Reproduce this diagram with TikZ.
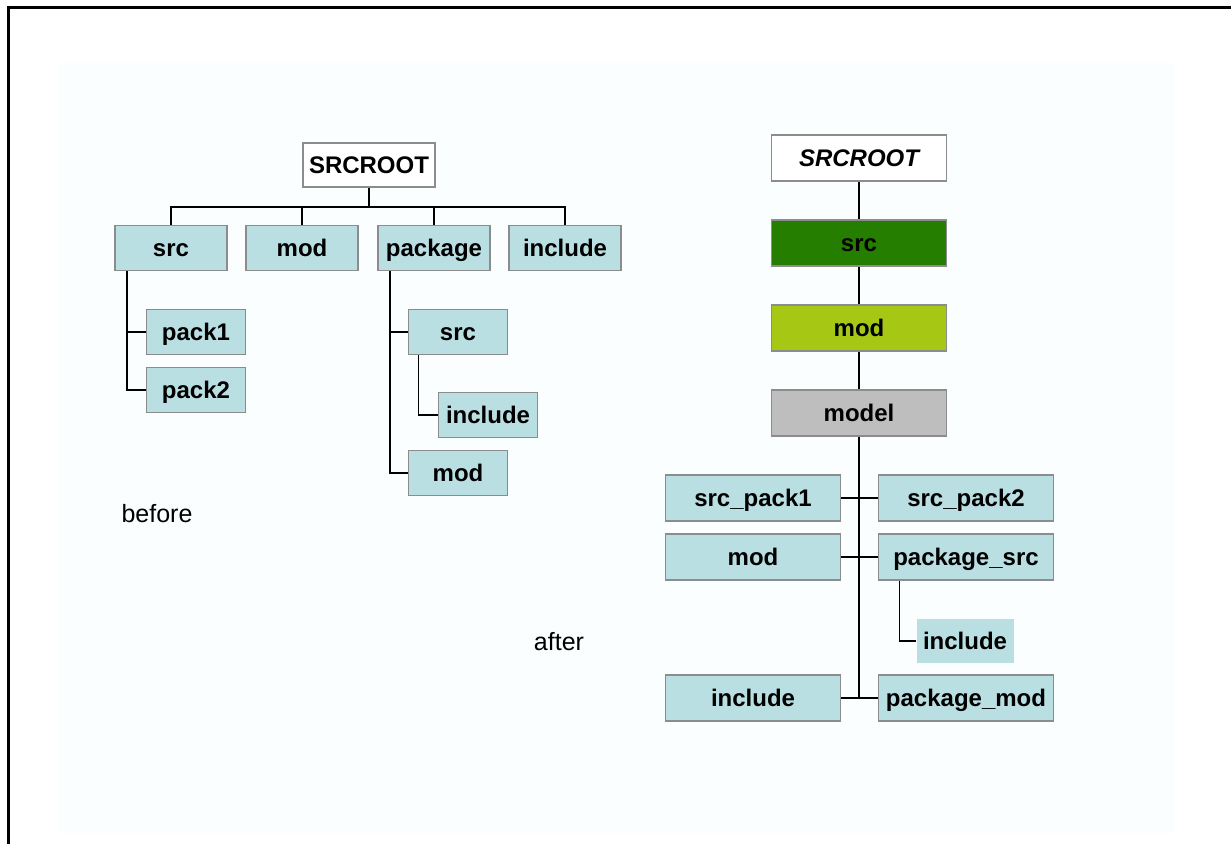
\documentclass[tikz,border=0pt]{standalone}
\usepackage{fontspec}
\setmainfont{Liberation Sans}
\definecolor{dirblue}{RGB}{185,223,227}
\definecolor{boxline}{RGB}{140,140,140}
\definecolor{srcgreen}{RGB}{38,126,0}
\definecolor{modlime}{RGB}{166,200,20}
\definecolor{modelgray}{RGB}{190,190,190}
\definecolor{paper}{RGB}{250,254,255}
\tikzset{
  dirbox/.style={draw=boxline, fill=dirblue, line width=0.8pt, inner sep=0pt,
    minimum height=22.5pt, text height=8.6pt, text depth=0pt,
    font=\bfseries\fontsize{12}{14}\selectfont},
  topbox/.style={dirbox, minimum width=56pt},
  subbox/.style={dirbox, minimum width=49.5pt},
  flatbox/.style={dirbox, minimum width=87.5pt, minimum height=23pt},
  rootbox/.style={dirbox, fill=white},
  link/.style={line width=0.75pt}
}
\begin{document}
\begin{tikzpicture}
        [x=0.5pt,y=-0.5pt]
        \useasboundingbox (0,0) rectangle (1231,844);
        \fill[paper] (59,63) rectangle (1175,833);
        \draw[line width=1.5pt] (8,844) -- (8,8) -- (1231,8);

        % before
        \node[rootbox, minimum width=66pt, minimum height=22pt] (root) at (369,165) {SRCROOT};
        \node[topbox] (src) at (171,248) {src};
        \node[topbox] (mod) at (302,248) {mod};
        \node[topbox] (package) at (434,248) {package};
        \node[topbox] (include) at (565,248) {include};
        \node[subbox] (pack1) at (196,332) {pack1};
        \node[subbox] (pack2) at (196,390) {pack2};
        \node[subbox] (pksrc) at (458,332) {src};
        \node[subbox] (pkinc) at (488,415) {include};
        \node[subbox] (pkmod) at (458,473) {mod};
        \coordinate (bus) at (369,207);

        \draw[link] (root) -- (bus);
        \foreach \n in {src,mod,package,include}
        {\draw[link] (\n.north) |- (bus);}
        \draw[link] ([xshift=6.5pt]src.south west) |- (pack1.west);
        \draw[link] ([xshift=6.5pt]src.south west) |- (pack2.west);
        \draw[link] ([xshift=6.5pt]package.south west) |- (pksrc.west);
        \draw[link] ([xshift=6.5pt]package.south west) |- (pkmod.west);
        \draw[link] ([xshift=5.5pt]pksrc.south west) |- (pkinc.west);

        \node[font=\fontsize{12.5}{14}\selectfont] (before) at (157,514) {before};
        \node[font=\fontsize{12.5}{14}\selectfont] (after) at (559,642) {after};

        % after
        \node[rootbox, minimum width=87.5pt, minimum height=23pt, font=\bfseries\itshape\fontsize{12}{14}\selectfont] (rroot) at (859,158) {SRCROOT};
        \node[flatbox, fill=srcgreen] (rsrc) at (859,243) {src};
        \node[flatbox, fill=modlime] (rmod) at (859,328) {mod};
        \node[flatbox, fill=modelgray] (model) at (859,413) {model};
        \node[flatbox] (spack1) at (753,498) {src\_pack1};
        \node[flatbox] (spack2) at (966,498) {src\_pack2};
        \node[flatbox] (fmod) at (753,557) {mod};
        \node[flatbox] (psrc) at (966,557) {package\_src};
        \node[dirbox, draw=none, minimum width=48.5pt, minimum height=22pt] (pinc) at (965,641) {include};
        \node[flatbox] (finc) at (753,698) {include};
        \node[flatbox] (pmod) at (966,698) {package\_mod};
        \coordinate (trunkend) at (859,698);

        \draw[link] (rroot) -- (rsrc);
        \draw[link] (rsrc) -- (rmod);
        \draw[link] (rmod) -- (model);
        \draw[link] (model) -- (trunkend);
        \draw[link] (spack1) -- (spack2);
        \draw[link] (fmod) -- (psrc);
        \draw[link] (finc) -- (pmod);
        \draw[link] ([xshift=11pt]psrc.south west) |- (pinc.west);
      \end{tikzpicture}
\end{document}
